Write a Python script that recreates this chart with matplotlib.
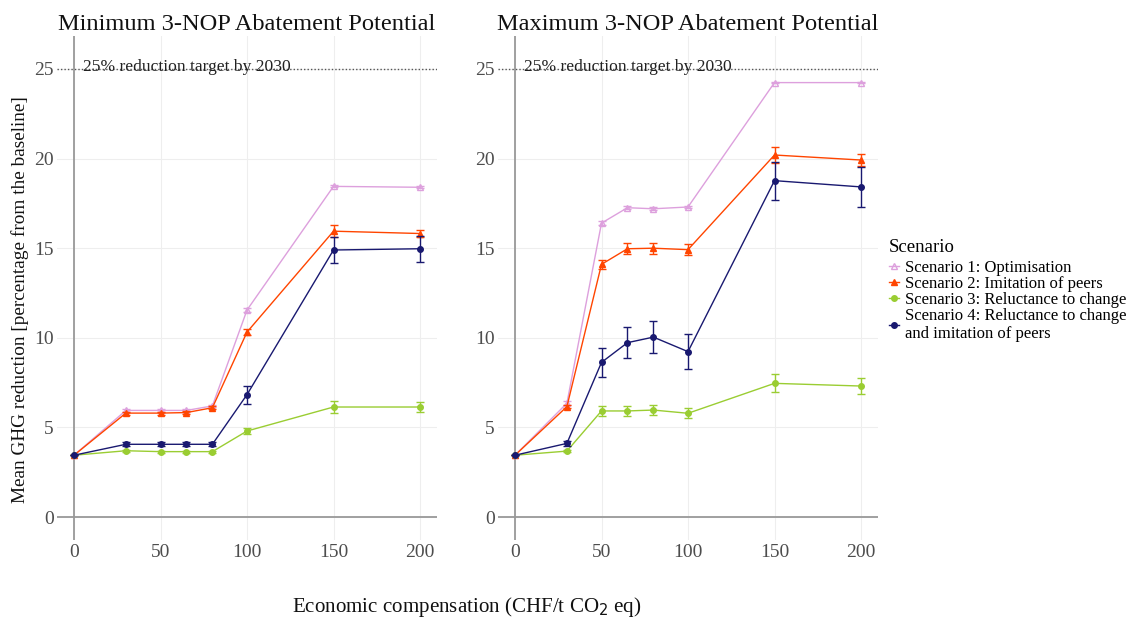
import matplotlib
matplotlib.use("Agg")
import matplotlib.pyplot as plt
from matplotlib.lines import Line2D

plt.rcParams['font.family'] = ['Liberation Serif', 'DejaVu Serif']

x = [0, 30, 50, 65, 80, 100, 150, 200]
scenarios = ["Scenario 1: Optimisation", "Scenario 2: Imitation of peers",
             "Scenario 3: Reluctance to change",
             "Scenario 4: Reluctance to change\nand imitation of peers"]

# Minimum 3-NOP abatement potential
min_s1 = [3.45, 5.95, 5.95, 5.95, 6.2, 11.55, 18.45, 18.4]
min_s1_err = [0, 0.08, 0.08, 0.08, 0.08, 0.12, 0.05, 0.05]
min_s2 = [3.45, 5.8, 5.8, 5.83, 6.1, 10.32, 15.95, 15.82]
min_s2_err = [0, 0.08, 0.08, 0.08, 0.08, 0.15, 0.35, 0.2]
min_s3 = [3.45, 3.7, 3.65, 3.65, 3.65, 4.8, 6.14, 6.14]
min_s3_err = [0, 0.05, 0.05, 0.05, 0.05, 0.15, 0.34, 0.3]
min_s4 = [3.45, 4.06, 4.06, 4.06, 4.06, 6.83, 14.9, 14.97]
min_s4_err = [0, 0.1, 0.1, 0.1, 0.1, 0.5, 0.7, 0.73]

# Maximum 3-NOP abatement potential
max_s1 = [3.45, 6.35, 16.4, 17.26, 17.2, 17.3, 24.24, 24.24]
max_s1_err = [0, 0.1, 0.1, 0.08, 0.08, 0.08, 0.05, 0.05]
max_s2 = [3.45, 6.16, 14.1, 14.97, 15.0, 14.92, 20.2, 19.92]
max_s2_err = [0, 0.1, 0.26, 0.3, 0.3, 0.3, 0.46, 0.33]
max_s3 = [3.45, 3.68, 5.92, 5.92, 5.97, 5.79, 7.46, 7.31]
max_s3_err = [0, 0.05, 0.28, 0.28, 0.3, 0.28, 0.51, 0.47]
max_s4 = [3.45, 4.11, 8.63, 9.73, 10.04, 9.23, 18.77, 18.42]
max_s4_err = [0, 0.12, 0.81, 0.88, 0.91, 0.99, 1.06, 1.1]

xticks = [0, 50, 100, 150, 200]
yticks = [0, 5, 10, 15, 20, 25]
titles = ["Minimum 3-NOP Abatement Potential", "Maximum 3-NOP Abatement Potential"]

colors = ["#DDA0DD", "#FF4500", "#9ACD32", "#191970"]
markers = ["^", "^", "o", "o"]
mfc = ["none", "#FF4500", "#9ACD32", "#191970"]

W, H = 1129, 623
fig = plt.figure(figsize=(W / 100, H / 100), dpi=100)

def px_axes(l, r, t, b):
    return fig.add_axes([l / W, (H - b) / H, (r - l) / W, (b - t) / H])

panels = [
    (px_axes(56.7, 437.3, 36, 540),
     [(min_s1, min_s1_err), (min_s2, min_s2_err), (min_s3, min_s3_err), (min_s4, min_s4_err)]),
    (px_axes(497.7, 878.3, 36, 540),
     [(max_s1, max_s1_err), (max_s2, max_s2_err), (max_s3, max_s3_err), (max_s4, max_s4_err)]),
]

for i, (ax, series) in enumerate(panels):
    ax.set_xlim(-10, 210)
    ax.set_ylim(-1.28, 26.84)
    for s in ax.spines.values():
        s.set_visible(False)
    ax.set_xticks(xticks)
    ax.set_yticks(yticks)
    ax.grid(True, color="#EEEEEE", lw=0.8)
    ax.set_axisbelow(True)
    ax.tick_params(length=0, labelsize=14, labelcolor="#4D4D4D")
    ax.tick_params(axis="x", pad=3)
    ax.tick_params(axis="y", pad=2)
    ax.axvline(0, color="#999999", lw=1.3, zorder=1)
    ax.axhline(0, color="#999999", lw=1.3, zorder=1)
    ax.axhline(25, color="#555555", lw=1.0, ls=(0, (1, 1.5)), zorder=1)
    ax.text(5, 25.1, "25% reduction target by 2030", fontsize=12.6, color="#222222",
            va="center", ha="left")
    ax.set_title(titles[i], fontsize=17.6, pad=4, color="#111111")
    for j, (vals, err) in enumerate(series):
        ax.errorbar(x, vals, yerr=err, color=colors[j], lw=1.0, marker=markers[j],
                    ms=4, mfc=mfc[j], mec=colors[j], mew=1.0, capsize=3,
                    elinewidth=1.0, capthick=1.0, zorder=3 + j)

fig.text(20 / W, 1 - 300 / H, "Mean GHG reduction [percentage from the baseline]",
         fontsize=13.9, rotation=90, ha="center", va="center", color="#111111")

fig.text(467 / W, 1 - 607 / H, "Economic compensation (CHF/t CO$_2$ eq)", fontsize=15.1,
         ha="center", va="center", color="#111111")

handles = [Line2D([0], [0], color=colors[j], marker=markers[j], mfc=mfc[j], mec=colors[j],
                  lw=1.0, ms=4) for j in range(4)]
leg = fig.legend(handles, scenarios, title="Scenario", loc="upper left",
                 bbox_to_anchor=(882 / W, 1 - 232 / H), frameon=False, fontsize=12,
                 title_fontsize=13.5, handlelength=0.6, handletextpad=0.35,
                 labelspacing=0.0, borderaxespad=0, alignment="left")
leg._legend_box.sep = 3

fig.savefig("out.png", dpi=100)
